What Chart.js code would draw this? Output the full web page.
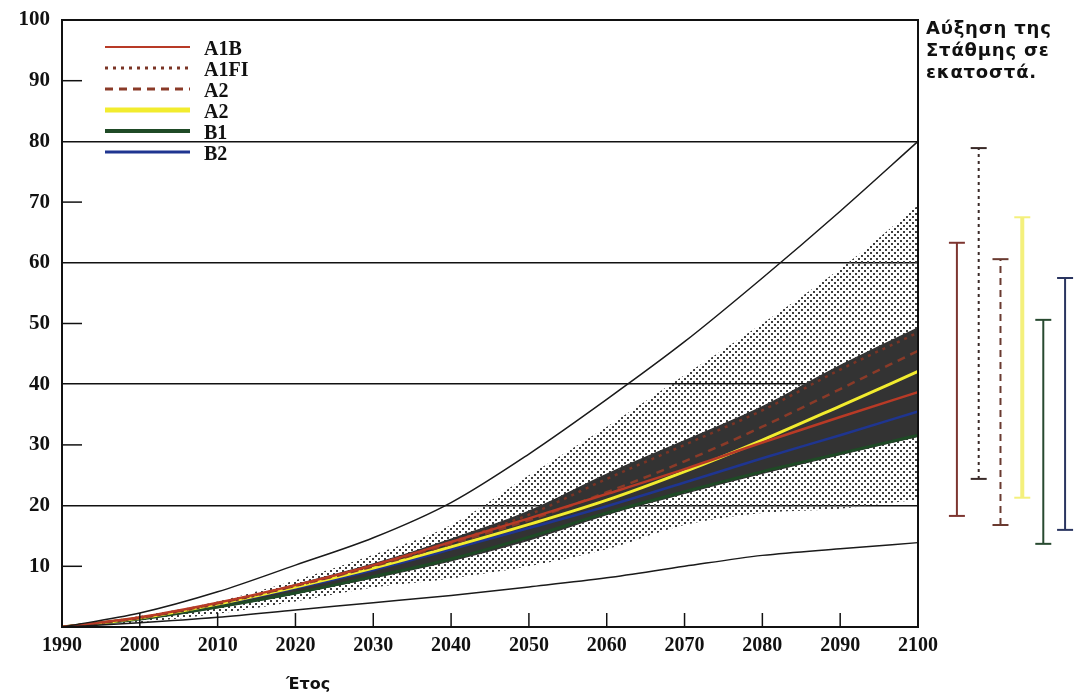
<!DOCTYPE html>
<html>
<head>
<meta charset="utf-8">
<script src="https://cdn.jsdelivr.net/npm/chart.js@4/dist/chart.umd.min.js"></script>
<style>
  body { margin: 0; background: #fff; }
  canvas { display: block; }
</style>
</head>
<body>
<canvas id="seaLevel" width="1075" height="694"></canvas>
<script>
// years on the x axis
const years = [1990, 2000, 2010, 2020, 2030, 2040, 2050, 2060, 2070, 2080, 2090, 2100];

// outer thin black envelope
const upperEnvelope = [0, 2.3, 5.8, 10.2, 14.7, 20.5, 28.5, 37.5, 47.0, 57.5, 68.5, 80.0];
const lowerEnvelope = [0, 0.7, 1.6, 2.8, 4.0, 5.2, 6.6, 8.1, 10.0, 11.8, 12.9, 13.9];

// dotted (light) range
const stippleTop = [0, 1.8, 4.2, 7.7, 11.9, 16.8, 25.0, 33.0, 41.5, 50.0, 59.0, 69.5];
const stippleBottom = [0, 0.8, 2.2, 4.2, 6.5, 8.0, 10.0, 12.8, 16.8, 18.8, 19.5, 21.0];

// dark range
const bandTop = [0, 1.6, 4.0, 7.1, 10.5, 14.6, 19.2, 25.3, 30.8, 36.4, 43.2, 49.4];
const bandBottom = [0, 1.2, 3.1, 5.4, 8.0, 10.8, 14.2, 18.4, 21.9, 25.2, 28.3, 31.3];

// scenarios
const scenarioNames = ['A1B', 'A1FI', 'A2', 'A2', 'B1', 'B2'];
const a1b = [0, 1.6, 4.0, 6.9, 10.2, 14.0, 17.9, 21.9, 26.0, 30.4, 34.6, 38.7];
const a1fi = [0, 1.5, 3.8, 6.8, 10.1, 14.0, 18.5, 24.4, 30.0, 35.7, 42.4, 48.5];
const a2Dashed = [0, 1.5, 3.9, 6.8, 10.0, 13.7, 17.6, 22.2, 27.3, 33.0, 39.2, 45.5];
const a2 = [0, 1.5, 3.8, 6.6, 9.7, 13.2, 16.9, 20.9, 25.6, 30.8, 36.4, 42.1];
const b1 = [0, 1.3, 3.3, 5.6, 8.3, 11.2, 14.8, 18.8, 22.3, 25.6, 28.6, 31.6];
const b2 = [0, 1.5, 3.7, 6.4, 9.4, 12.8, 16.3, 19.9, 23.8, 27.8, 31.6, 35.5];

// ranges for 2100 drawn at the right of the frame (one per scenario)
const rangeX = [2105, 2107.8, 2110.6, 2113.4, 2116.1, 2118.9];
const rangeLow = [18.3, 24.4, 16.8, 21.3, 13.7, 16.0];
const rangeHigh = [63.3, 78.9, 60.6, 67.5, 50.6, 57.5];

// tick values
const yTickLabels = [10, 20, 30, 40, 50, 60, 70, 80, 90, 100];
const yGridValues = [20, 40, 60, 80, 100];
const yInnerTicks = [10, 30, 50, 70, 90];
const xInnerTicks = [2000, 2010, 2020, 2030, 2040, 2050, 2060, 2070, 2080, 2090];

const sideNote = ['Αύξηση της', 'Στάθμης σε', 'εκατοστά.'];
const xTitle = 'Έτος';

const pts = arr => years.map((yr, i) => ({ x: yr, y: arr[i] }));

// dotted fill pattern (transparent between the dots)
function dotPattern() {
  const c = document.createElement('canvas');
  c.width = 6; c.height = 6;
  const g = c.getContext('2d');
  g.fillStyle = '#3e3e3e';
  g.fillRect(0, 0, 2, 2);
  g.fillRect(3, 3, 2, 2);
  return g.createPattern(c, 'repeat');
}

const plainLine = { pointRadius: 0, tension: 0, cubicInterpolationMode: 'monotone' };

// scenario styles (color, width, dash)
const scenarioStyles = [
  { color: '#b83a26', width: 2.5, dash: [] },
  { color: '#7a3425', width: 2.5, dash: [3, 5] },
  { color: '#8a3a28', width: 2.5, dash: [8, 6] },
  { color: '#f2ec2e', width: 3, dash: [] },
  { color: '#1f4a26', width: 3, dash: [] },
  { color: '#1f3590', width: 2.5, dash: [] },
];
const legendWidths = [2, 3, 3, 5, 4, 3];
const scenarioData = [a1b, a1fi, a2Dashed, a2, b1, b2];
const rangeStyles = [
  { color: '#7d3530', width: 2, dash: [] },
  { color: '#3a2a28', width: 2, dash: [3, 4] },
  { color: '#6a3a30', width: 2, dash: [7, 5] },
  { color: '#f4f07c', width: 4, dash: [] },
  { color: '#284a30', width: 2, dash: [] },
  { color: '#2a3560', width: 2, dash: [] },
];

const datasets = [
  Object.assign({ data: pts(stippleTop), borderWidth: 0, fill: '+1', backgroundColor: dotPattern(), order: 20 }, plainLine),
  Object.assign({ data: pts(stippleBottom), borderWidth: 0, fill: false, order: 20 }, plainLine),
  Object.assign({ data: pts(bandTop), borderWidth: 0, fill: '+1', backgroundColor: '#333333', order: 10 }, plainLine),
  Object.assign({ data: pts(bandBottom), borderWidth: 0, fill: false, order: 10 }, plainLine),
  Object.assign({ data: pts(upperEnvelope), borderColor: '#1a1a1a', borderWidth: 1.5, fill: false, order: 1 }, plainLine),
  Object.assign({ data: pts(lowerEnvelope), borderColor: '#1a1a1a', borderWidth: 1.5, fill: false, order: 1 }, plainLine),
];

scenarioData.forEach((arr, i) => {
  const st = scenarioStyles[i];
  datasets.push(Object.assign({
    label: scenarioNames[i], data: pts(arr), borderColor: st.color, borderWidth: st.width,
    borderDash: st.dash, fill: false, order: 2, isScenario: true, legendWidth: legendWidths[i]
  }, plainLine));
});

// error-bar style ranges, outside the frame
rangeX.forEach((x, i) => {
  const st = rangeStyles[i];
  datasets.push({
    data: [{ x: x, y: rangeLow[i] }, { x: x, y: rangeHigh[i] }],
    borderColor: st.color, borderWidth: st.width, borderDash: st.dash,
    pointRadius: 0, fill: false, clip: false, tension: 0, order: 0, isRange: true
  });
});

const decorations = {
  id: 'decorations',
  afterDatasetsDraw(chart) {
    const { ctx, chartArea: a, scales } = chart;
    const xs = scales.x, ys = scales.y;
    ctx.save();
    // frame
    ctx.strokeStyle = '#111';
    ctx.lineWidth = 2;
    ctx.strokeRect(a.left, a.top, a.right - a.left, a.bottom - a.top);
    // inner ticks
    ctx.lineWidth = 1.5;
    yInnerTicks.forEach(v => {
      const py = ys.getPixelForValue(v);
      ctx.beginPath(); ctx.moveTo(a.left, py); ctx.lineTo(a.left + 20, py); ctx.stroke();
    });
    xInnerTicks.forEach(v => {
      const px = xs.getPixelForValue(v);
      ctx.beginPath(); ctx.moveTo(px, a.bottom); ctx.lineTo(px, a.bottom - 14); ctx.stroke();
    });

    // caps of the ranges (the points would be skipped outside the chart area)
    rangeX.forEach((x, i) => {
      const px = xs.getPixelForValue(x);
      ctx.strokeStyle = rangeStyles[i].color;
      ctx.lineWidth = 2;
      [rangeLow[i], rangeHigh[i]].forEach(v => {
        const py = ys.getPixelForValue(v);
        ctx.beginPath(); ctx.moveTo(px - 8, py); ctx.lineTo(px + 8, py); ctx.stroke();
      });
    });

    // legend in the top-left corner
    const sets = chart.data.datasets.filter(d => d.isScenario);
    ctx.font = 'bold 20px "Liberation Serif", serif';
    ctx.textBaseline = 'middle';
    sets.forEach((d, i) => {
      const yy = a.top + 27 + i * 21;
      ctx.strokeStyle = d.borderColor;
      ctx.lineWidth = d.legendWidth;
      ctx.setLineDash(d.borderDash);
      ctx.beginPath(); ctx.moveTo(a.left + 43, yy); ctx.lineTo(a.left + 128, yy); ctx.stroke();
      ctx.setLineDash([]);
      ctx.fillStyle = '#111';
      ctx.fillText(d.label, a.left + 142, yy + 3);
    });

    // note on the right
    ctx.font = 'bold 18px "DejaVu Sans", sans-serif';
    ctx.letterSpacing = '0.8px';
    ctx.textBaseline = 'alphabetic';
    ctx.fillStyle = '#111';
    sideNote.forEach((t, i) => ctx.fillText(t, a.right + 8, 34 + i * 22));
    ctx.letterSpacing = '0px';

    // axis title
    ctx.font = 'bold 16px "DejaVu Sans", sans-serif';
    ctx.textAlign = 'center';
    ctx.fillText(xTitle, a.left + 246, a.bottom + 62);
    ctx.restore();
  }
};

new Chart(document.getElementById('seaLevel'), {
  type: 'line',
  data: { datasets: datasets },
  options: {
    responsive: false,
    animation: false,
    layout: { padding: { top: 0, right: 157, left: 5, bottom: 0 } },
    plugins: { legend: { display: false }, tooltip: { enabled: false } },
    scales: {
      x: {
        type: 'linear',
        afterDataLimits: s => { s.min = years[0]; s.max = years[years.length - 1]; },
        afterFit: s => { s.height = 67; },
        grid: { display: false, drawTicks: false },
        border: { display: false },
        ticks: {
          stepSize: 10, maxRotation: 0, autoSkip: false, padding: 7, color: '#111',
          font: { family: '"Liberation Serif", serif', weight: 'bold', size: 20 },
          callback: v => String(v)
        }
      },
      y: {
        min: 0,
        max: 100,
        z: 1,
        afterFit: s => {
          s.width = 57;
          s.paddingTop = 20; // top of the frame sits at y=20
        },
        afterBuildTicks: s => { s.ticks = [{ value: 0 }].concat(yTickLabels.map(v => ({ value: v }))); },
        grid: {
          drawTicks: false,
          lineWidth: 1.5,
          color: c => yGridValues.includes(c.tick.value) ? '#111' : 'rgba(0,0,0,0)'
        },
        border: { display: false },
        ticks: {
          padding: 12, color: '#111',
          font: { family: '"Liberation Serif", serif', weight: 'bold', size: 21 },
          callback: v => v === 0 ? '' : String(v)
        }
      }
    }
  },
  plugins: [decorations]
});
</script>
</body>
</html>
